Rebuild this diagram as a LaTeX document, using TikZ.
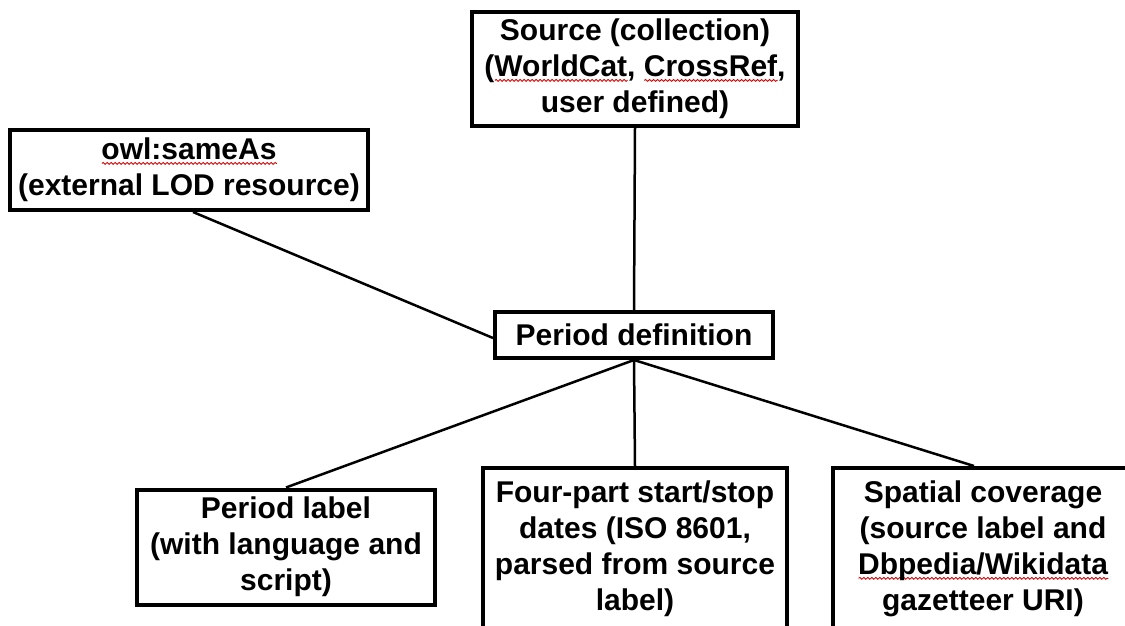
\documentclass[tikz,border=0pt]{standalone}
\usepackage{fontspec}
\setmainfont{Liberation Sans}
\usetikzlibrary{decorations.pathmorphing}
\newsavebox\wavebox
\newlength\wavelen
\newcommand\redwave[1]{\sbox\wavebox{#1}\setlength\wavelen{\wd\wavebox}%
  \rlap{\raisebox{-5pt}{\tikz[x=1pt,y=1pt]\draw[red!85!black,line width=0.9pt,
    decorate,decoration={snake,amplitude=0.9pt,segment length=4pt}] (0,0) -- (\wavelen,0);}}%
  \usebox\wavebox}
\tikzset{
  box/.style={draw=black, line width=4pt, fill=white, align=center, inner sep=0pt,
    font=\fontsize{30}{36}\selectfont\bfseries},
  link/.style={draw=black, line width=2.5pt}
}
\begin{document}
\begin{tikzpicture}[x=1pt,y=-1pt]
\useasboundingbox (0,0) rectangle (1125,626);
\clip (0,0) rectangle (1125,626);
\fill[white] (0,0) rectangle (1125,626);
\node[box, minimum width=326pt, minimum height=114pt] (src) at (635,69)
  {Source (collection)\\(\redwave{WorldCat}, \redwave{CrossRef},\\user defined)};
\node[box, minimum width=358pt, minimum height=80pt] (owl) at (189,170)
  {\redwave{owl:sameAs}\\(external LOD resource)};
\node[box, minimum width=278pt, minimum height=46pt] (pd) at (634,335)
  {Period definition};
\node[box, minimum width=298pt, minimum height=115pt] (pl) at (286,547)
  {Period label\\(with language and\\script)};
\node[box, minimum width=304pt, minimum height=162pt] (fp) at (635,549)
  {Four-part start/stop\\dates (ISO 8601,\\parsed from source\\label)};
\node[box, minimum width=300pt, minimum height=162pt] (sp) at (983,549)
  {Spatial coverage\\(source label and\\\redwave{Dbpedia/Wikidata}\\gazetteer URI)};
\draw[link] (src.south) -- (pd.north);
\draw[link] ([xshift=4pt]owl.south) -- ([yshift=-3pt]pd.west);
\draw[link] (pd.south) -- (pl.north);
\draw[link] (pd.south) -- (fp.north);
\draw[link] (pd.south) -- ([xshift=-9pt]sp.north);
\end{tikzpicture}
\end{document}
